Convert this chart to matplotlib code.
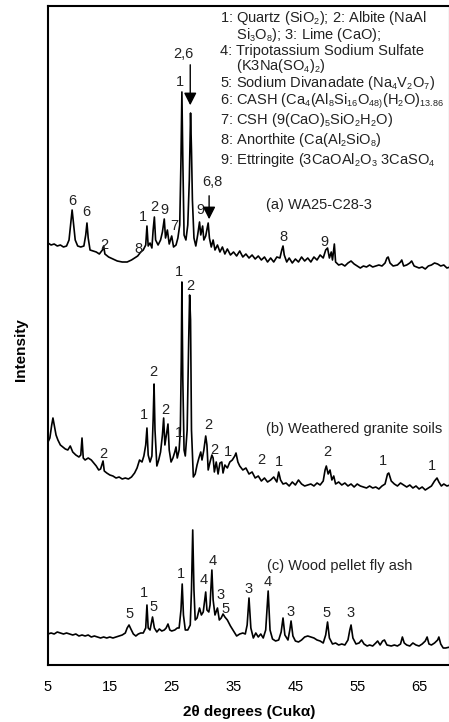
import matplotlib
matplotlib.use("Agg")
import matplotlib.pyplot as plt
try:
    import matplotlib._mathtext as _mt
    _mt.SHRINK_FACTOR = 0.62
except Exception:
    pass

plt.rcParams['font.family'] = ['Liberation Sans', 'DejaVu Sans']
plt.rcParams['mathtext.fontset'] = 'custom'
plt.rcParams['mathtext.rm'] = 'Liberation Sans'
plt.rcParams['mathtext.it'] = 'Liberation Sans'
plt.rcParams['mathtext.default'] = 'regular'

# ---------------- data (2theta, relative intensity) ----------------
two_theta_a = [5.0, 5.5, 6.0, 6.5, 7.0, 7.5, 8.0, 8.4, 8.7, 8.9, 9.1, 9.4, 9.8, 10.3, 10.8, 11.1, 11.3, 11.5, 11.8,
               12.3, 12.8, 13.3, 13.8, 14.0, 14.2, 14.8, 15.5, 16.2, 17.0, 17.8, 18.5, 19.0, 19.5, 20.0, 20.4, 20.8,
               21.0, 21.2, 21.5, 21.8, 22.0, 22.2, 22.4, 22.8, 23.2, 23.5, 23.8, 24.0, 24.3, 24.6, 25.0, 25.3, 25.7,
               26.0, 26.3, 26.5, 26.65, 26.8, 27.0, 27.3, 27.6, 27.85, 28.05, 28.2, 28.35, 28.6, 28.9, 29.2, 29.5,
               29.7, 30.0, 30.2, 30.5, 30.9, 31.1, 31.4, 31.7, 32.0, 32.4, 32.8, 33.2, 33.6, 34.0, 34.5, 35.0, 35.5,
               36.0, 36.5, 37.0, 37.5, 38.0, 38.5, 39.0, 39.5, 40.0, 40.5, 41.0, 41.5, 42.0, 42.5, 42.8, 43.0, 43.2,
               43.6, 44.0, 44.5, 45.0, 45.5, 46.0, 46.5, 47.0, 47.5, 48.0, 48.5, 49.0, 49.5, 49.9, 50.2, 50.5, 50.8,
               51.0, 51.3, 51.5, 52.0, 52.5, 53.0, 53.5, 54.0, 54.5, 55.0, 55.5, 56.0, 56.5, 57.0, 57.5, 58.0, 58.5,
               59.0, 59.5, 59.8, 60.0, 60.3, 60.8, 61.5, 62.0, 62.2, 62.5, 63.0, 63.5, 63.8, 64.2, 65.0, 65.5, 66.0,
               66.5, 67.0, 67.5, 68.0, 68.5, 69.0, 69.5, 70.0]
intensity_a = [27, 25, 26, 24, 25, 23, 24, 30, 48, 60, 48, 30, 24, 23, 24, 35, 47, 32, 20,
               19, 18, 16, 20, 24, 16, 13, 11, 9, 8, 8, 10, 12, 14, 18, 20, 25,
               44, 24, 27, 22, 40, 53, 30, 25, 30, 38, 51, 32, 40, 26, 34, 23, 25,
               32, 45, 110, 178, 110, 35, 30, 45, 90, 157, 120, 70, 32, 24, 35, 48,
               35, 44, 30, 34, 47, 32, 23, 30, 20, 25, 18, 23, 16, 21, 15, 18, 14,
               19, 13, 16, 12, 15, 11, 14, 10, 13, 8, 12, 8, 13, 12, 20, 24, 15,
               8, 12, 7, 11, 8, 13, 9, 12, 8, 13, 10, 15, 12, 20, 22, 12, 18,
               10, 26, 8, 5, 6, 4, 7, 9, 6, 4, 2, 4, 3, 5, 3, 4, 5,
               4, 7, 12, 13, 7, 4, 5, 8, 10, 4, 5, 7, 9, 4, 2, 3, 1,
               4, 5, 7, 6, 4, 5, 2, 3]

two_theta_b = [5.0, 5.3, 5.6, 5.8, 6.0, 6.3, 6.6, 7.0, 7.4, 7.8, 8.2, 8.6, 9.0, 9.5, 10.0, 10.3, 10.5, 10.7, 11.0,
               11.5, 12.0, 12.4, 12.8, 13.2, 13.5, 13.9, 14.1, 14.5, 15.0, 15.5, 16.0, 16.5, 17.0, 17.5, 18.0, 18.5,
               19.0, 19.4, 19.8, 20.2, 20.5, 20.8, 21.0, 21.2, 21.5, 21.8, 22.0, 22.15, 22.3, 22.6, 22.9, 23.2, 23.5,
               23.7, 23.9, 24.2, 24.4, 24.6, 24.9, 25.2, 25.5, 25.7, 25.9, 26.2, 26.4, 26.55, 26.65, 26.8, 27.0, 27.2,
               27.5, 27.75, 27.9, 28.05, 28.2, 28.5, 28.8, 29.1, 29.4, 29.7, 29.9, 30.2, 30.5, 30.7, 30.9, 31.2, 31.5,
               31.7, 31.9, 32.2, 32.5, 32.8, 33.1, 33.3, 33.6, 34.0, 34.4, 34.8, 35.2, 35.4, 35.7, 36.0, 36.5, 37.0,
               37.5, 38.0, 38.5, 39.0, 39.5, 40.0, 40.5, 41.0, 41.5, 42.0, 42.3, 42.6, 43.0, 43.5, 44.0, 44.5, 45.0,
               45.5, 46.0, 46.5, 47.0, 47.5, 48.0, 48.5, 49.0, 49.5, 49.8, 50.0, 50.3, 50.6, 50.9, 51.2, 51.5, 52.0,
               52.5, 53.0, 53.5, 54.0, 54.5, 55.0, 55.5, 56.0, 56.5, 57.0, 57.5, 58.0, 58.5, 59.0, 59.5, 59.9, 60.1,
               60.5, 61.0, 61.5, 62.0, 62.5, 63.0, 63.5, 64.0, 64.5, 65.0, 65.5, 66.0, 66.5, 67.0, 67.5, 67.9, 68.2,
               68.6, 69.0, 69.5, 70.0]
intensity_b = [48, 52, 65, 72, 65, 55, 50, 45, 43, 41, 40, 44, 38, 35, 33, 35, 52, 32, 30,
               32, 30, 27, 24, 20, 21, 29, 19, 17, 15, 14, 12, 13, 11, 12, 11, 13,
               17, 22, 30, 28, 34, 45, 62, 35, 28, 34, 70, 106, 60, 24, 30, 38, 55,
               72, 45, 58, 66, 40, 28, 32, 38, 43, 32, 40, 60, 130, 208, 110, 40, 34,
               60, 150, 195, 170, 60, 13, 16, 25, 32, 38, 30, 40, 54, 45, 20, 28, 35,
               32, 18, 28, 16, 27, 28, 17, 25, 22, 28, 30, 34, 37, 28, 24, 20, 22,
               16, 18, 12, 14, 9, 12, 8, 10, 13, 8, 18, 10, 6, 7, 4, 8, 5,
               10, 6, 4, 5, 6, 4, 7, 5, 9, 20, 24, 16, 20, 10, 14, 6, 8,
               5, 7, 4, 6, 3, 6, 4, 3, 2, 4, 2, 3, 1, 4, 6, 16, 17,
               9, 6, 4, 7, 5, 3, 5, 2, 4, 1, 3, 0, 2, 4, 9, 12, 8,
               4, 6, 4, 5]

two_theta_c = [5.0, 5.5, 6.0, 6.5, 7.0, 7.5, 8.0, 8.5, 9.0, 9.5, 10.0, 10.5, 11.0, 11.5, 12.0, 12.5, 13.0, 13.5,
               14.0, 14.5, 15.0, 15.5, 16.0, 16.5, 17.0, 17.5, 17.8, 18.1, 18.4, 18.8, 19.2, 19.6, 20.0, 20.4, 20.8,
               21.0, 21.2, 21.5, 21.9, 22.2, 22.6, 23.0, 23.4, 23.8, 24.1, 24.4, 24.7, 25.0, 25.5, 25.9, 26.2, 26.5,
               26.7, 26.9, 27.2, 27.6, 28.0, 28.2, 28.4, 28.6, 28.8, 29.1, 29.5, 29.8, 30.1, 30.5, 30.7, 31.0, 31.2,
               31.5, 31.7, 32.0, 32.4, 32.7, 33.0, 33.3, 33.6, 34.0, 34.5, 35.0, 35.5, 36.0, 36.5, 36.9, 37.2, 37.5,
               37.8, 38.2, 38.6, 39.0, 39.4, 39.8, 40.2, 40.6, 40.9, 41.3, 41.8, 42.3, 42.7, 43.0, 43.3, 43.8, 44.1,
               44.3, 44.6, 45.0, 45.5, 46.0, 46.5, 47.0, 47.5, 48.0, 48.5, 49.0, 49.5, 49.9, 50.2, 50.5, 51.0, 51.5,
               52.0, 52.5, 53.0, 53.5, 53.8, 54.0, 54.3, 54.8, 55.3, 55.7, 56.1, 56.6, 57.0, 57.5, 58.0, 58.3, 58.7,
               59.1, 59.4, 59.8, 60.5, 61.0, 61.5, 62.0, 62.3, 62.6, 63.0, 63.5, 64.0, 64.5, 65.0, 65.5, 66.0, 66.3,
               66.6, 67.0, 67.5, 68.0, 68.2, 68.5, 68.9, 69.3, 70.0]
intensity_c = [16, 17, 16, 18, 17, 16, 17, 16, 15, 16, 14, 15, 14, 15, 13, 14, 13, 12,
               13, 12, 13, 12, 13, 14, 15, 17, 22, 25, 21, 16, 14, 16, 17, 17, 22,
               45, 22, 20, 33, 22, 18, 21, 19, 20, 22, 26, 20, 19, 20, 22, 22, 40,
               66, 35, 20, 20, 25, 60, 120, 60, 30, 32, 42, 35, 38, 58, 40, 38, 45,
               80, 50, 35, 42, 30, 32, 36, 33, 30, 24, 19, 14, 16, 17, 16, 25, 52,
               22, 12, 17, 13, 16, 12, 20, 59, 20, 11, 9, 10, 18, 32, 15, 10, 20,
               29, 14, 9, 8, 10, 13, 14, 13, 12, 10, 9, 7, 15, 28, 12, 6, 7,
               5, 6, 5, 10, 20, 25, 12, 6, 7, 10, 6, 4, 5, 4, 7, 9, 5,
               9, 10, 5, 4, 5, 4, 6, 13, 7, 5, 4, 7, 5, 4, 6, 9, 13,
               6, 5, 7, 10, 13, 6, 2, 2, 3]

offsets = {"a": 395, "b": 175, "c": 15}
sample_names = {"a": "(a) WA25-C28-3", "b": "(b) Weathered granite soils", "c": "(c) Wood pellet fly ash"}

x_ticks = [5, 15, 25, 35, 45, 55, 65]

phase_legend_block = [
    "1: Quartz (SiO$_2$); 2: Albite (NaAl",
    "    Si$_3$O$_8$); 3: Lime (CaO);",
    "4: Tripotassium Sodium Sulfate",
    "    (K3Na(SO$_4$)$_2$)",
    "5: Sodium Divanadate (Na$_4$V$_2$O$_7$)",
    "6: CASH (Ca$_4$(Al$_8$Si$_{16}$O$_{48)}$(H$_2$O)$_{13.86}$",
    "7: CSH (9(CaO)$_5$SiO$_2$H$_2$O)",
]
phase_legend_extra = [
    "8: Anorthite (Ca(Al$_2$SiO$_8$)",
    "9: Ettringite (3CaOAl$_2$O$_3$ 3CaSO$_4$",
]

# peak labels: (text, 2theta, y)
labels_a = [("6", 8.9, 464), ("6", 11.15, 453), ("2", 14.05, 420), ("8", 19.7, 416), ("1", 20.4, 448),
            ("2", 22.15, 458), ("9", 23.9, 455), ("7", 25.4, 439), ("1", 26.4, 583), ("2,6", 26.85, 611),
            ("9", 29.6, 455), ("6,8", 31.55, 483), ("8", 43.0, 428), ("9", 49.7, 423)]
labels_b = [("1", 26.2, 393), ("2", 28.0, 379), ("2", 22.0, 293), ("1", 20.55, 250), ("2", 23.9, 255),
            ("1", 26.2, 232), ("2", 30.9, 240), ("2", 31.85, 215), ("1", 34.1, 213), ("2", 39.45, 205),
            ("1", 42.4, 203), ("2", 50.15, 213), ("1", 59.2, 204), ("1", 67.0, 199), ("2", 13.9, 211)]
labels_c = [("5", 18.1, 51), ("1", 20.55, 72), ("5", 22.0, 58), ("1", 26.5, 91), ("4", 30.25, 85),
            ("4", 31.55, 104), ("3", 32.85, 70), ("5", 33.65, 56), ("3", 37.5, 76), ("4", 40.45, 83),
            ("3", 44.15, 53), ("5", 50.0, 52), ("3", 53.9, 52)]

arrows_a = [(28.0, 603, 557), (31.05, 472, 443)]

# ---------------- figure ----------------
fig = plt.figure(figsize=(4.49, 7.22), dpi=100)
ax = fig.add_axes([48 / 449, 57 / 722, 402 / 449, 659 / 722])

fs = 10.5
for key, tt, inten in (("a", two_theta_a, intensity_a), ("b", two_theta_b, intensity_b),
                       ("c", two_theta_c, intensity_c)):
    ax.plot(tt, [v + offsets[key] for v in inten], color="black", lw=1.2)

for labs in (labels_a, labels_b, labels_c):
    for t, x, y in labs:
        ax.text(x, y, t, ha="center", va="center", fontsize=fs, color="#222222")

for x, y0, y1 in arrows_a:
    ax.annotate("", xy=(x, y1), xytext=(x, y0),
                arrowprops=dict(arrowstyle="-|>,head_length=0.75,head_width=0.38", color="black", lw=1.0))

ax.text(40.3, 460, sample_names["a"], ha="left", va="center", fontsize=fs, color="#222222")
ax.text(40.3, 236, sample_names["b"], ha="left", va="center", fontsize=fs, color="#222222")
ax.text(40.45, 99, sample_names["c"], ha="left", va="center", fontsize=fs, color="#222222")

ax.text(32.8, 656, "\n".join(phase_legend_block), ha="left", va="top", fontsize=fs,
        color="#222222", linespacing=0.95)
ax.text(32.8, 525, phase_legend_extra[0], ha="left", va="center", fontsize=fs, color="#222222")
ax.text(32.8, 505, phase_legend_extra[1], ha="left", va="center", fontsize=fs, color="#222222")

ax.set_xlim(5, 70)
ax.set_ylim(0, 659)
ax.set_xticks(x_ticks)
ax.set_xticklabels([str(v) for v in x_ticks], fontsize=fs)
ax.set_yticks([])
ax.tick_params(axis="x", length=0, pad=11)
for s in ax.spines.values():
    s.set_linewidth(1.5)

ax.set_xlabel("2θ degrees (Cukα)", fontsize=fs + 0.5, fontweight="bold", labelpad=8)
fig.text(21 / 449, 1 - 350 / 722, "Intensity", rotation=90, ha="center", va="center",
         fontsize=fs + 0.5, fontweight="bold")

fig.savefig("out.png", dpi=100)
